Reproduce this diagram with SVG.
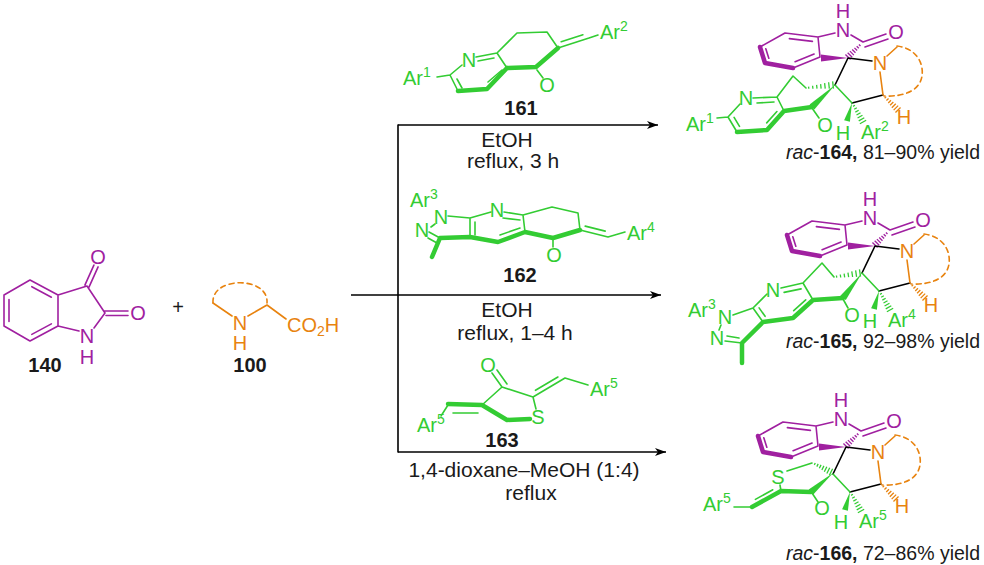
<svg xmlns="http://www.w3.org/2000/svg" xmlns:xlink="http://www.w3.org/1999/xlink" width="984" height="565" viewBox="0 0 984 565">
<style>
.b{fill:none;stroke-width:1.6;stroke-linecap:round;stroke-linejoin:round}
.w{stroke-width:4.5}
.bp{stroke:#a020a0}.bg{stroke:#33cc33}.bo{stroke:#e8830f}.bk{stroke:#000}
.t{font-family:"Liberation Sans",Arial,sans-serif;font-size:20px}
.c{font-size:21px}
.y{font-size:19.5px}
.tp{fill:#a020a0}.tg{fill:#33cc33}.to{fill:#e8830f}.tk{fill:#1a1a1a}
.m{text-anchor:middle}.e{text-anchor:end}
.lbl{font-weight:bold;text-anchor:middle;fill:#1a1a1a;font-size:20px}
.dash{stroke-dasharray:5 4}
</style>
<defs>
<g id="hash"><path d="M0.1,-1.1V1.1M0.25,-1.5V1.5M0.4,-1.9V1.9M0.55,-2.3V2.3M0.7,-2.8V2.8M0.85,-3.2V3.2M1,-3.6V3.6" stroke="currentColor" stroke-width="1.3" vector-effect="non-scaling-stroke" fill="none"/></g>
<marker id="ah" markerWidth="12" markerHeight="10" refX="11" refY="4" orient="auto" markerUnits="userSpaceOnUse"><path d="M0,0 L11,4 L0,8 L3,4 Z" fill="#000"/></marker>
<g id="frag">
<path class="b bp" d="M785,33 L760,47 M785,33 L818,37 L820,57 L793,68 M789.4,38.6 L812.4,41.4 M765.8,48.7 L768.8,58.3 M795.1,61.7 L814.1,54 M818,37 L835,33 M851,35 L863,42 M863,42 L886,34 M865,47 L888,39"/>
<path class="b bp w" d="M760,47 L765,63 L793,68"/>
<polygon fill="#a020a0" points="848,58 821,54.5 821,61.5"/>
<use xlink:href="#hash" href="#hash" color="#a020a0" transform="translate(861,44) rotate(135) scale(18.4,1)"/>
<path class="b bk" d="M848,58 L872,61 M848,58 L835,85 M883,95 L852,103"/>
<path class="b bo" d="M880,72 L883,95 M887,56 L897,47"/>
<path class="b bo dash" d="M897,46 C915,48 924,62 922,76 C920,90 905,97 884,96"/>
<use xlink:href="#hash" href="#hash" color="#e8830f" transform="translate(884,96) rotate(45) scale(19.8,1)"/>
<path class="b bg" d="M852,103 L835,85"/>
<polygon fill="#33cc33" points="852,103 849.9,121.8 844.1,120.2"/>
<use xlink:href="#hash" href="#hash" color="#33cc33" transform="translate(853,104) rotate(60.9) scale(20.6,1)"/>
</g>
</defs>

<g id="arrows">
<path class="b bk" d="M398,125 L398,452" stroke-width="1.3"/>
<line x1="398" y1="125" x2="658" y2="125" stroke="#000" stroke-width="1.3" marker-end="url(#ah)"/>
<line x1="351" y1="295" x2="661" y2="295" stroke="#000" stroke-width="1.3" marker-end="url(#ah)"/>
<line x1="398" y1="452" x2="666" y2="452" stroke="#000" stroke-width="1.3" marker-end="url(#ah)"/>
<text class="t c tk m" x="507" y="147">EtOH</text>
<text class="t c tk m" x="513" y="168">reflux, 3 h</text>
<text class="t c tk m" x="507" y="317">EtOH</text>
<text class="t c tk m" x="515" y="340">reflux, 1–4 h</text>
<text class="t c tk m" x="524" y="477">1,4-dioxane–MeOH (1:4)</text>
<text class="t c tk m" x="531" y="500">reflux</text>
<text class="t tk m" x="178" y="314">+</text>
</g>

<g id="cmpd140">
<path class="b bp" d="M30,280 L58,295 L58,326 L30,341 L4,326 L4,295 Z M31.8,286.7 L51.4,297.2 M51.4,323.9 L31.8,334.4 M9,299.6 L9,321.4 M58,295 L87,286 L105,313 L94,328 M58,326 L79,331 M84.9,285.1 L93.9,265.1 M89.1,286.9 L98.1,266.9 M104,311 L128,311 M106,315.5 L128,315.5"/>
<text class="t tp m" x="98" y="264">O</text>
<text class="t tp m" x="138" y="320">O</text>
<text class="t tp m" x="87" y="343">N</text>
<text class="t tp m" x="87" y="364">H</text>
<text class="t lbl" x="45" y="372">140</text>
</g>

<g id="cmpd100">
<path class="b bo" d="M213,303 L232,316 M248,316 L267,305 L286,319"/>
<path class="b bo dash" d="M213,303 C211,276 269,276 267,303"/>
<text class="t to m" x="240" y="330">N</text>
<text class="t to m" x="240" y="350">H</text>
<text class="t to" x="287" y="332">CO<tspan font-size="14" dy="4">2</tspan><tspan dy="-4">H</tspan></text>
<text class="t lbl" x="250" y="372">100</text>
</g>

<g id="cmpd161">
<path class="b bg" d="M437,77 L450,75 L462,65 M476,57 L497,53 L507,68 M478,61 L494,58 M488,82 L502,70 M458,91 L450,75 M457,79 L462,88 M537,70 L543,78 M558,48 L547,32 L517,33 L497,53 M558,48 L589,38 M561.2,41.7 L582.9,34.7 M589,38 L598,35"/>
<path class="b bg w" d="M507,68 L487,89 L458,91 M507,68 L536,67 L558,48"/>
<text class="t tg" x="403" y="85">Ar<tspan font-size="14" dy="-8">1</tspan></text>
<text class="t tg m" x="469" y="67">N</text>
<text class="t tg m" x="547" y="92">O</text>
<text class="t tg" x="600" y="39">Ar<tspan font-size="14" dy="-8">2</tspan></text>
<text class="t lbl" x="521" y="115">161</text>
</g>

<g id="cmpd162">
<path class="b bg" d="M435,224 L431,227 M429,232 L440,238 M428,238 L437,243 M470,237 L470,218 L448,216 M475,222 L475,235 M470,218 L491,212 M504,212 L523,215 L525,232 M503,218 L520,220 M500,235 L520,228 M553,240 L553,247 M523,215 L552,207 L578,213 L580,230 L608,237 M585.2,226.1 L605.2,231.1 M608,237 L625,232"/>
<path class="b bg w" d="M432,257 L440,238 L470,237 L498,242 L525,232 L553,238 L580,230"/>
<text class="t tg" x="410" y="207">Ar<tspan font-size="14" dy="-8">3</tspan></text>
<text class="t tg m" x="441" y="224">N</text>
<text class="t tg m" x="422" y="237">N</text>
<text class="t tg m" x="497" y="217">N</text>
<text class="t tg m" x="554" y="262">O</text>
<text class="t tg" x="627" y="240">Ar<tspan font-size="14" dy="-8">4</tspan></text>
<text class="t lbl" x="520" y="282">162</text>
</g>

<g id="cmpd163">
<path class="b bg" d="M492,373 L502,387 M497,370 L507,384 M502,387 L533,397 M502,387 L482,405 M533,397 L565,378 M535.5,390.3 L557.9,377 M565,378 L588,385 M533,397 L536,409 M453,413 L478,413 M448,405 L441,416"/>
<path class="b bg w" d="M530,419 L507,420 L482,405 L448,404"/>
<text class="t tg m" x="488" y="372">O</text>
<text class="t tg m" x="538" y="424">S</text>
<text class="t tg" x="590" y="396">Ar<tspan font-size="14" dy="-8">5</tspan></text>
<text class="t tg" x="417" y="432">Ar<tspan font-size="14" dy="-8">5</tspan></text>
<text class="t lbl" x="502" y="447">163</text>
</g>

<g id="cmpd164">
<use xlink:href="#frag" href="#frag"/>
<use xlink:href="#hash" href="#hash" color="#33cc33" transform="translate(806,88) rotate(-6.3) scale(27.2,1)"/>
<path class="b bg" d="M806,88 L793,76 L777,97 L784,111 M812,108 L819,118 M753,98 L777,97 M757,103 L774,102 M776.9,111.5 L766.7,122.9 M737,132 L728,117 L740,104 M739.5,126.4 L734.1,117.4 M717,118 L728,117"/>
<path class="b bg w" d="M812,107 L784,111 L767,130 L737,132"/>
<polygon fill="#33cc33" points="835,85 814.4,109.5 809.6,104.5"/>
<text class="t tg m" x="746" y="105">N</text>
<text class="t tg m" x="825" y="132">O</text>
<text class="t tg" x="686" y="131">Ar<tspan font-size="14" dy="-8">1</tspan></text>
<text class="t tp m" x="843" y="18">H</text>
<text class="t tp m" x="843" y="37">N</text>
<text class="t tp m" x="896" y="39">O</text>
<text class="t to m" x="880" y="70">N</text>
<text class="t to m" x="904" y="124">H</text>
<text class="t tg m" x="843" y="140">H</text>
<text class="t tg" x="861" y="139">Ar<tspan font-size="14" dy="-8">2</tspan></text>
<text class="t y tk e" x="980" y="159"><tspan font-style="italic">rac</tspan>-<tspan font-weight="bold">164,</tspan> 81–90% yield</text>
</g>

<g id="cmpd165">
<use xlink:href="#frag" href="#frag" transform="translate(27,188)"/>
<use xlink:href="#hash" href="#hash" color="#33cc33" transform="translate(834,277) rotate(-8.7) scale(26.3,1)"/>
<path class="b bg" d="M834,277 L822,263 L803,283 L813,300 M843,299 L848,308 M781,288 L803,283 M784.1,292.4 L801.1,288.9 M805.7,299.9 L793.7,310.7 M763,322 L753,308 L767,294 M765.1,316.3 L759.1,307.9 M753,308 L733,315 M721,325 L719,330 M725,341 L742,343 M727,336 L739,338"/>
<path class="b bg w" d="M843,298 L813,300 L793,318 L763,322 L742,343 L742,363"/>
<polygon fill="#33cc33" points="862,273 845.8,300.1 840.2,295.9"/>
<text class="t tg m" x="773" y="297">N</text>
<text class="t tg m" x="852" y="322">O</text>
<text class="t tg m" x="725" y="324">N</text>
<text class="t tg m" x="717" y="345">N</text>
<text class="t tg" x="688" y="317">Ar<tspan font-size="14" dy="-8">3</tspan></text>
<g transform="translate(27,188)">
<text class="t tp m" x="843" y="18">H</text>
<text class="t tp m" x="843" y="37">N</text>
<text class="t tp m" x="896" y="39">O</text>
<text class="t to m" x="880" y="70">N</text>
<text class="t to m" x="904" y="124">H</text>
<text class="t tg m" x="843" y="140">H</text>
<text class="t tg" x="861" y="139">Ar<tspan font-size="14" dy="-8">4</tspan></text>
</g>
<text class="t y tk e" x="980" y="348"><tspan font-style="italic">rac</tspan>-<tspan font-weight="bold">165,</tspan> 92–98% yield</text>
</g>

<g id="cmpd166">
<use xlink:href="#frag" href="#frag" transform="translate(-2,389)"/>
<use xlink:href="#hash" href="#hash" color="#33cc33" transform="translate(813,463) rotate(26.6) scale(20.1,1)"/>
<path class="b bg" d="M812,463 L787,471 M780,485 L781,491 M812,493 L818,502 M772.8,489.8 L755.4,499.4 M752,507 L734,507"/>
<path class="b bg w" d="M811,492 L781,491 L752,507"/>
<polygon fill="#33cc33" points="833,473 813.3,494.6 808.7,489.4"/>
<text class="t tg m" x="778" y="484">S</text>
<text class="t tg m" x="822" y="515">O</text>
<text class="t tg" x="703" y="511">Ar<tspan font-size="14" dy="-8">5</tspan></text>
<g transform="translate(-2,389)">
<text class="t tp m" x="843" y="18">H</text>
<text class="t tp m" x="843" y="37">N</text>
<text class="t tp m" x="896" y="39">O</text>
<text class="t to m" x="880" y="70">N</text>
<text class="t to m" x="904" y="124">H</text>
<text class="t tg m" x="843" y="140">H</text>
<text class="t tg" x="861" y="139">Ar<tspan font-size="14" dy="-8">5</tspan></text>
</g>
<text class="t y tk e" x="980" y="560"><tspan font-style="italic">rac</tspan>-<tspan font-weight="bold">166,</tspan> 72–86% yield</text>
</g>
</svg>
